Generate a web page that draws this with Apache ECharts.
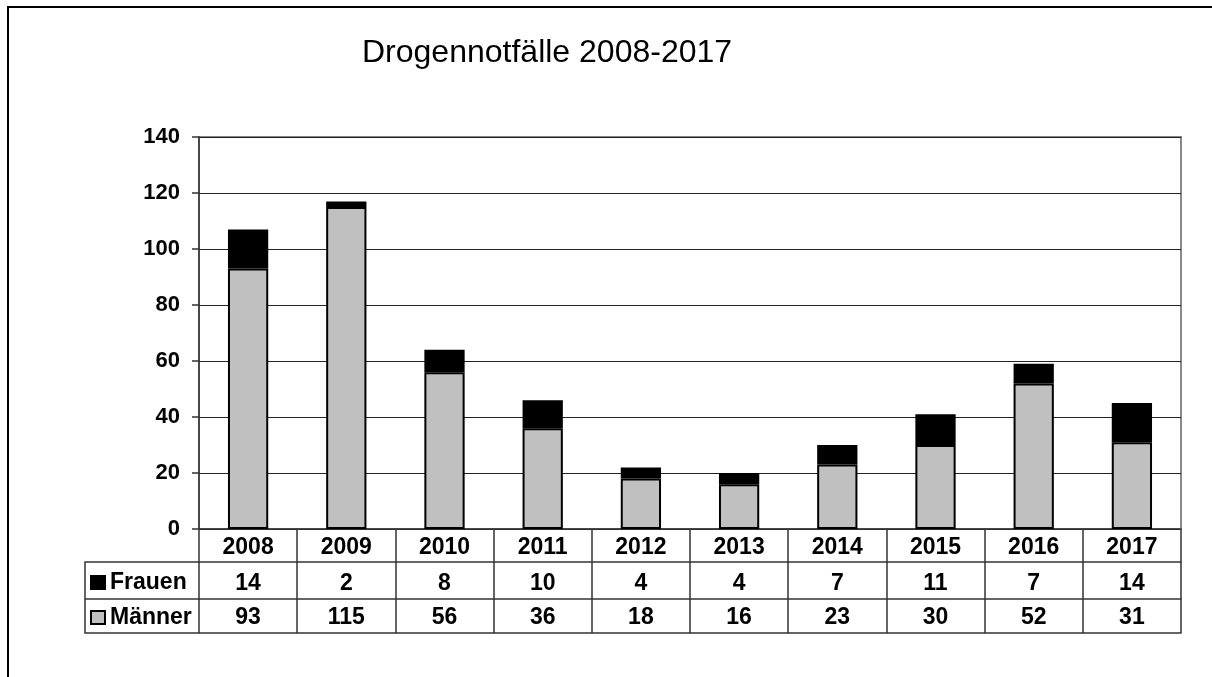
<!DOCTYPE html>
<html>
<head>
<meta charset="utf-8">
<title>Drogennotfälle 2008-2017</title>
<script src="https://cdn.jsdelivr.net/npm/echarts@6/dist/echarts.min.js"></script>
<style>
    html, body { margin: 0; padding: 0; background: #fff; }
    #chart { width: 1212px; height: 677px; }
</style>
</head>
<body>
<div id="chart"></div>
<script>
    // data
    var years = ['2008', '2009', '2010', '2011', '2012', '2013', '2014', '2015', '2016', '2017'];
    var frauen = [14, 2, 8, 10, 4, 4, 7, 11, 7, 14];
    var maenner = [93, 115, 56, 36, 18, 16, 23, 30, 52, 31];
    var yTicks = [0, 20, 40, 60, 80, 100, 120, 140];

    var font = 'Arial, "Liberation Sans", sans-serif';
    var lineCol = '#333';

    // plot / table layout
    var gridLeft = 199, gridRight = 1181, gridTop = 137, gridBottom = 529;
    var rowFrauen = 562, rowMaenner = 599, rowEnd = 633, tableLeft = 85;

    var chart = echarts.init(document.getElementById('chart'));

    function tableAxis(offset, tickLen, margin, values) {
        return {
            type: 'category',
            data: years,
            position: 'bottom',
            offset: offset,
            axisLine: {show: true, lineStyle: {color: lineCol, width: 1.5}},
            axisTick: {show: tickLen > 0, interval: 0, length: tickLen, lineStyle: {color: lineCol, width: 1.5}},
            axisLabel: {
                show: !!values,
                interval: 0,
                margin: margin,
                fontFamily: font,
                fontWeight: 'bold',
                fontSize: 23,
                lineHeight: 22,
                color: '#000',
                formatter: function (v, i) { return values ? String(values[i]) : v; }
            },
            splitLine: {show: false}
        };
    }

    var option = {
        animation: false,
        title: {
            text: 'Drogennotfälle 2008-2017',
            left: 357,
            top: 32,
            textStyle: {fontFamily: font, fontWeight: 'normal', fontSize: 32, color: '#000'}
        },
        legend: {
            orient: 'vertical',
            left: 90,
            top: 571,
            padding: 0,
            itemWidth: 14,
            itemHeight: 13,
            itemGap: 12,
            icon: 'rect',
            data: ['Frauen', 'Männer'],
            textStyle: {fontFamily: font, fontWeight: 'bold', fontSize: 23, lineHeight: 22, color: '#000'}
        },
        grid: {
            left: gridLeft,
            right: 1212 - gridRight,
            top: gridTop,
            bottom: 677 - gridBottom,
            show: true,
            borderColor: '#888',
            borderWidth: 2,
            containLabel: false
        },
        xAxis: [
            tableAxis(0, 33, 8, years),
            tableAxis(rowFrauen - gridBottom, 37, 11, frauen),
            tableAxis(rowMaenner - gridBottom, 34, 8, maenner),
            tableAxis(rowEnd - gridBottom, 0, 0, null)
        ],
        yAxis: {
            type: 'value',
            min: yTicks[0],
            max: yTicks[yTicks.length - 1],
            interval: 20,
            axisLine: {show: true, lineStyle: {color: lineCol, width: 1.5}},
            axisTick: {show: true, length: 7, lineStyle: {color: lineCol, width: 1.5}},
            axisLabel: {margin: 19, fontFamily: font, fontWeight: 'bold', fontSize: 22, color: '#000', padding: [6, 0, 0, 0]},
            splitLine: {show: true, lineStyle: {color: '#222', width: 1}}
        },
        series: [
            {
                name: 'Männer',
                type: 'bar',
                stack: 'total',
                barWidth: '41%',
                data: maenner,
                itemStyle: {color: '#C0C0C0', borderColor: '#000', borderWidth: 2}
            },
            {
                name: 'Frauen',
                type: 'bar',
                stack: 'total',
                data: frauen,
                itemStyle: {color: '#000', borderColor: '#000', borderWidth: 2}
            }
        ],
        graphic: [
            // outer frame (left and top edge)
            {type: 'polyline', shape: {points: [[8, 677], [8, 7], [1212, 7]]}, style: {stroke: '#000', lineWidth: 2, fill: null}},
            // left column of the data table
            {type: 'polyline', shape: {points: [[gridLeft, rowFrauen], [tableLeft, rowFrauen], [tableLeft, rowEnd], [gridLeft, rowEnd]]},
                style: {stroke: lineCol, lineWidth: 1.5, fill: null}},
            {type: 'line', shape: {x1: tableLeft, y1: rowMaenner, x2: gridLeft, y2: rowMaenner}, style: {stroke: lineCol, lineWidth: 1.5}}
        ]
    };

    chart.setOption(option);
</script>
</body>
</html>
